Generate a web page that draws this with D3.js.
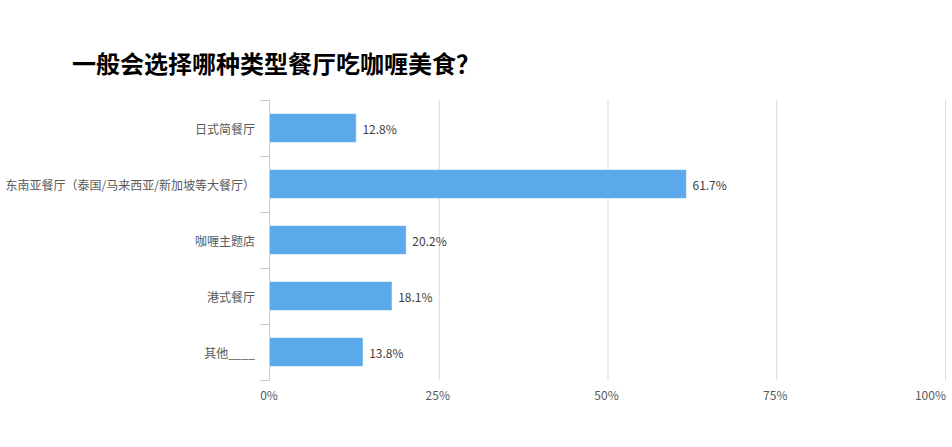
<!DOCTYPE html>
<html><head><meta charset="utf-8">
<script src="https://cdn.jsdelivr.net/npm/d3@7"></script>
<style>body{margin:0;background:#fff;}svg{display:block;}</style>
</head><body>
<svg id="c" width="952" height="447"></svg>
<script>
const title = "一般会选择哪种类型餐厅吃咖喱美食？";
const categories = ["日式简餐厅","东南亚餐厅（泰国/马来西亚/新加坡等大餐厅）","咖喱主题店","港式餐厅","其他____"];
const values = [12.8, 61.7, 20.2, 18.1, 13.8];
const xTicks = [0, 25, 50, 75, 100];

(function(){
const svg = d3.select("#c");
const font = "'Noto Sans CJK SC', 'Noto Sans', sans-serif";
const mLeft = 269, mRight = 944, mTop = 100, mBottom = 380;

svg.append("text").attr("x", 72).attr("y", 73).text(title)
  .attr("font-family", font).attr("font-size", 24).attr("font-weight", "bold").attr("fill", "#000");

const x = d3.scaleLinear().domain([0, 100]).range([mLeft, mRight]);
const y = d3.scaleBand().domain(categories).range([mTop, mBottom]).paddingInner(0.5).paddingOuter(0.25);

svg.append("g").selectAll("line").data(xTicks.filter(d => d > 0)).join("line")
  .attr("x1", d => x(d) + 1.5).attr("x2", d => x(d) + 1.5)
  .attr("y1", mTop).attr("y2", mBottom)
  .attr("stroke", "#d9d9d9").attr("stroke-width", 1);

svg.append("g").selectAll("text").data(xTicks).join("text")
  .attr("x", (d, i) => i === xTicks.length - 1 ? x(d) + 2 : x(d))
  .attr("y", 400)
  .attr("text-anchor", (d, i) => i === xTicks.length - 1 ? "end" : "middle")
  .attr("font-family", font).attr("font-size", 12).attr("fill", "#595959")
  .text(d => d + "%");

svg.append("g").selectAll("rect").data(values).join("rect")
  .attr("x", x(0) + 0.5).attr("y", (d, i) => y(categories[i]))
  .attr("width", d => x(d) - x(0)).attr("height", y.bandwidth())
  .attr("fill", "#5ba8eb").attr("stroke", "#7dbaf0").attr("stroke-width", 0.6);

svg.append("g").selectAll("text").data(values).join("text")
  .attr("x", d => x(d) + 7).attr("y", (d, i) => y(categories[i]) + y.bandwidth() / 2)
  .attr("dominant-baseline", "central")
  .attr("font-family", font).attr("font-size", 12).attr("fill", "#404040")
  .text(d => d.toFixed(1) + "%");

const yEdge = d3.scaleBand().domain(categories).range([mTop, mBottom]);
const axisG = svg.append("g");
axisG.append("line").attr("x1", mLeft + 0.5).attr("x2", mLeft + 0.5).attr("y1", mTop).attr("y2", mBottom)
  .attr("stroke", "#bcd0e5").attr("stroke-width", 1);
const edges = categories.map(c => yEdge(c)).concat([mBottom]);
axisG.selectAll("line.t").data(edges).join("line").attr("class", "t")
  .attr("x1", mLeft - 9).attr("x2", mLeft + 1).attr("y1", d => d + 0.5).attr("y2", d => d + 0.5)
  .attr("stroke", "#bcd0e5").attr("stroke-width", 1);
axisG.selectAll("text").data(categories).join("text")
  .attr("x", 255).attr("y", c => yEdge(c) + yEdge.bandwidth() / 2)
  .attr("text-anchor", "end").attr("dominant-baseline", "central")
  .attr("font-family", font).attr("font-size", 12).attr("fill", "#595959")
  .text(c => c);
})();
</script>
</body></html>
